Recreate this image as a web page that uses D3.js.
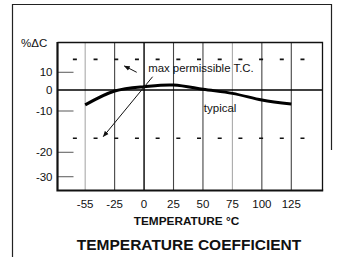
<!DOCTYPE html>
<html>
<head>
<meta charset="utf-8">
<script src="https://cdn.jsdelivr.net/npm/d3@7"></script>
<style>
  body { margin: 0; background: #fff; }
  svg { display: block; font-family: "Liberation Sans", Arial, sans-serif; }
</style>
</head>
<body>
<div id="chart"></div>
<script>
// temperature categories (evenly spaced on the chart)
var temps = [-55, -25, 0, 25, 50, 75, 100, 125];
// typical %dC at each temperature
var typical = [-7.1, -0.5, 1.9, 2.8, 0.4, -1.6, -4.8, -6.7];
// max permissible T.C. limits (dashed)
var maxTC = [17.3, -16.6];
var yTicks = [10, 0, -10, -20, -30];
// gridlines drawn lighter
var grayTemps = [-55, 75];

var w = 343, h = 257;
var pLeft = 57.5, pRight = 322.5, pTop = 42.5, pBottom = 190.5;

var svg = d3.select("#chart").append("svg")
	.attr("width", w).attr("height", h);

var x = d3.scalePoint().domain(temps).range([pLeft, pRight]).padding(1).align(0.47);
// position between categories, in category steps from the first one
var xi = function(i){ return x(temps[0]) + i * x.step(); };

// the printed scale is not even, so it is piecewise
var y = d3.scaleLinear()
	.domain([-30, -20, -10, 0, 10])
	.range([176.7, 152.3, 111, 90, 72.3]);

// outer frame
svg.append("path")
	.attr("d", "M12.5,257V4.5H331.5V150")
	.attr("fill", "none").attr("stroke", "#222").attr("stroke-width", 1.2);

// vertical grid
svg.selectAll(".grid").data(temps).enter().append("line")
	.attr("class", "grid")
	.attr("x1", function(d){ return x(d); })
	.attr("x2", function(d){ return x(d); })
	.attr("y1", pTop).attr("y2", pBottom)
	.attr("stroke", function(d){
		if (d == 0) return "#000";
		return grayTemps.indexOf(d) >= 0 ? "#aaa" : "#444";
	})
	.attr("stroke-width", function(d){ return d == 0 ? 1.4 : 1.1; });

// zero line
svg.append("line")
	.attr("x1", pLeft).attr("x2", pRight)
	.attr("y1", y(0)).attr("y2", y(0))
	.attr("stroke", "#000").attr("stroke-width", 1.3);

// y ticks (no tick at zero)
svg.selectAll(".ytick").data(yTicks.filter(function(d){ return d != 0; })).enter().append("line")
	.attr("x1", pLeft).attr("x2", pLeft + 16)
	.attr("y1", function(d){ return y(d); })
	.attr("y2", function(d){ return y(d); })
	.attr("stroke", "#666").attr("stroke-width", 1.1);

// plot frame: heavy left and bottom
svg.append("path")
	.attr("d", "M" + pLeft + "," + pTop + "H" + pRight + "V" + pBottom)
	.attr("fill", "none").attr("stroke", "#111").attr("stroke-width", 1.3);
svg.append("path")
	.attr("d", "M" + pLeft + "," + (pTop - 0.6) + "V" + pBottom + "H" + (pRight + 0.7))
	.attr("fill", "none").attr("stroke", "#111").attr("stroke-width", 2.2);

// max permissible dashes
var dx1 = xi(-0.35) - 2, dx2 = xi(7.38) + 2;
svg.selectAll(".limit").data(maxTC).enter().append("line")
	.attr("x1", dx1).attr("x2", dx2)
	.attr("y1", function(d){ return y(d); })
	.attr("y2", function(d){ return y(d); })
	.attr("stroke", "#111").attr("stroke-width", 1.7)
	.attr("stroke-dasharray", "4 " + ((dx2 - dx1 - 4) / 11 - 4));

// typical curve
var line = d3.line()
	.x(function(d, i){ return x(temps[i]); })
	.y(function(d){ return y(d); })
	.curve(d3.curveNatural);
svg.append("path").datum(typical)
	.attr("d", line)
	.attr("fill", "none").attr("stroke", "#000").attr("stroke-width", 3);

// annotation arrows [from, to] in (category step, value)
var arrows = [
	[[1.75, 10], [1.33, 13.6]],
	[[2.29, 7.5], [0.615, -16.2]]
];
svg.append("defs").append("marker")
	.attr("id", "head").attr("viewBox", "0 0 10 10")
	.attr("refX", 9).attr("refY", 5)
	.attr("markerWidth", 6).attr("markerHeight", 6)
	.attr("orient", "auto")
	.append("path").attr("d", "M0,1L10,5L0,9z").attr("fill", "#111");
svg.selectAll(".arrow").data(arrows).enter().append("line")
	.attr("x1", function(d){ return xi(d[0][0]); })
	.attr("y1", function(d){ return y(d[0][1]); })
	.attr("x2", function(d){ return xi(d[1][0]); })
	.attr("y2", function(d){ return y(d[1][1]); })
	.attr("stroke", "#111").attr("stroke-width", 1)
	.attr("marker-end", "url(#head)");

// labels
svg.append("text").attr("x", xi(2.14)).attr("y", 72)
	.attr("font-size", 11.4).attr("fill", "#111")
	.text("max permissible T.C.");
svg.append("text").attr("x", xi(4.03)).attr("y", 112.3)
	.attr("font-size", 11.5).attr("fill", "#111")
	.text("typical");

svg.append("text").attr("x", 21).attr("y", 46.5)
	.attr("font-size", 11.5).attr("fill", "#111")
	.text("%ΔC");

svg.selectAll(".ylab").data(yTicks).enter().append("text")
	.attr("x", 52.5)
	.attr("y", function(d){ return y(d) + 4; })
	.attr("text-anchor", "end")
	.attr("font-size", 11.5).attr("fill", "#111")
	.text(function(d){ return d; });

svg.selectAll(".xlab").data(temps).enter().append("text")
	.attr("x", function(d){ return x(d); })
	.attr("y", 207.5)
	.attr("text-anchor", "middle")
	.attr("font-size", 11.5).attr("fill", "#111")
	.text(function(d){ return d; });

svg.append("text").attr("x", 186.5).attr("y", 224.5)
	.attr("text-anchor", "middle")
	.attr("font-size", 11.8).attr("font-weight", "bold").attr("fill", "#111")
	.text("TEMPERATURE °C");

svg.append("text").attr("x", 189).attr("y", 249.5)
	.attr("text-anchor", "middle")
	.attr("font-size", 15.5).attr("font-weight", "bold").attr("fill", "#111")
	.text("TEMPERATURE COEFFICIENT");
</script>
</body>
</html>
